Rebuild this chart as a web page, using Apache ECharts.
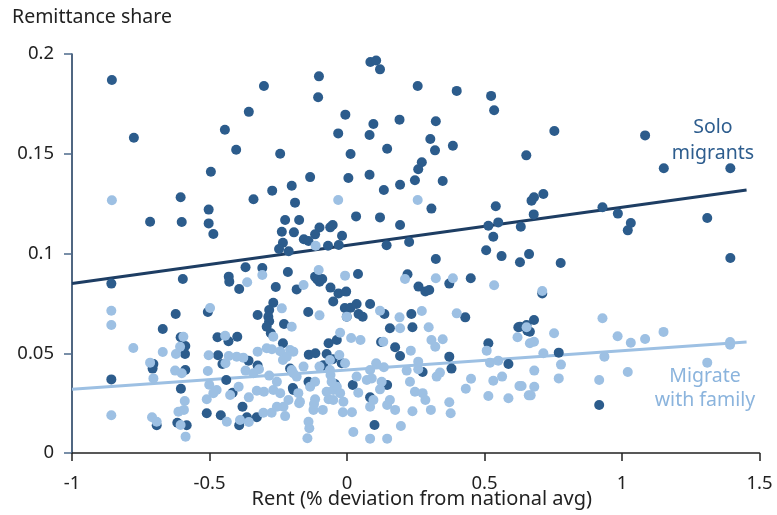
<!DOCTYPE html>
<html>
<head>
<meta charset="utf-8">
<script src="https://cdn.jsdelivr.net/npm/echarts@6/dist/echarts.min.js"></script>
<style>
html,body{margin:0;padding:0;background:#fff;}
#chart{width:777px;height:515px;}
</style>
</head>
<body>
<div id="chart"></div>
<script>
// ---- Data ----
var xTicks = [-1, -0.5, 0, 0.5, 1, 1.5];
var yTicks = [0, 0.05, 0.1, 0.15, 0.2];

var soloPoints = [
  [-0.855,0.187],[-0.775,0.158],[-0.302,0.184],[-0.357,0.171],[-0.444,0.162],[-0.403,0.152],[-0.243,0.150],[-0.495,0.141],[-0.272,0.1315],[-0.201,0.134],
  [0.085,0.196],[0.106,0.1967],[0.120,0.1923],[-0.102,0.1888],[-0.105,0.1783],[0.257,0.184],[0.399,0.1815],[0.524,0.179],[0.535,0.1718],[-0.006,0.1696],
  [0.096,0.1649],[0.191,0.1671],[0.323,0.1663],[-0.032,0.1602],[0.082,0.1594],[0.303,0.1574],[0.320,0.1517],[0.385,0.154],[0.146,0.1525],[0.013,0.1499],
  [0.652,0.1492],[0.272,0.1457],[0.259,0.1422],[-0.134,0.1383],[0.005,0.1378],[0.082,0.1395],[0.247,0.1367],[0.348,0.1363],[0.193,0.1345],[0.134,0.1318],
  [0.754,0.1614],[1.084,0.1592],[1.152,0.1427],[1.394,0.1427],
  [0.714,0.1298],[0.680,0.1282],[0.671,0.1265],[0.679,0.1196],[0.632,0.1134],[0.929,0.1232],[0.985,0.120],[1.032,0.1153],[1.021,0.1116],[1.310,0.1178],
  [0.662,0.0997],[0.629,0.0956],[0.777,0.0952],[1.394,0.0977],[0.710,0.080],[0.680,0.0667],
  [-0.605,0.1282],[-0.503,0.122],[-0.716,0.1159],[-0.601,0.1158],[-0.503,0.1151],[-0.486,0.1098],[-0.340,0.1272],[-0.189,0.1255],[-0.225,0.1168],[-0.237,0.1109],
  [-0.193,0.1106],[-0.233,0.1054],[-0.247,0.1023],[-0.212,0.1011],[-0.174,0.1168],[-0.857,0.0849],[-0.597,0.0872],[-0.369,0.0931],[-0.308,0.0927],[-0.430,0.0884],
  [-0.428,0.0859],[-0.392,0.0822],[-0.215,0.0907],[-0.259,0.0832],[-0.183,0.082],[-0.268,0.0753],[-0.283,0.0717],[-0.325,0.0692],[-0.286,0.0683],[-0.506,0.0707],
  [-0.623,0.0697],
  [0.307,0.1225],[0.033,0.1186],[0.120,0.1181],[-0.100,0.113],[-0.061,0.1131],[-0.052,0.1143],[-0.018,0.1089],[-0.116,0.1096],[-0.157,0.1071],[-0.140,0.1063],
  [-0.069,0.1039],[-0.030,0.1043],[0.193,0.1143],[0.144,0.1041],[0.226,0.1058],[0.541,0.1237],[0.514,0.1139],[0.550,0.1156],[0.532,0.1084],[0.506,0.1016],
  [0.562,0.0987],[0.323,0.0972],[-0.116,0.0884],[-0.100,0.0859],[-0.108,0.0870],[-0.090,0.0872],[0.040,0.0897],[-0.060,0.0829],[-0.031,0.080],[-0.003,0.0809],
  [-0.050,0.0759],[0.220,0.0896],[0.372,0.0849],[0.450,0.0876],[0.260,0.0834],[0.285,0.081],[0.299,0.0817],[-0.141,0.0707],[-0.008,0.0727],[0.013,0.0728],
  [0.035,0.0747],[0.084,0.0747],[0.136,0.0697],[0.042,0.0697],[-0.001,0.0683],[0.234,0.0697],[0.430,0.068],[0.057,0.0683],
  [-0.283,0.066],[-0.277,0.060],[-0.292,0.0633],[-0.229,0.0647],[-0.233,0.055],[-0.670,0.0622],[-0.605,0.058],[-0.588,0.0536],[-0.589,0.0496],[-0.704,0.0446],
  [-0.707,0.0423],[-0.588,0.0416],[-0.857,0.0369],[-0.604,0.0322],[-0.471,0.058],[-0.431,0.056],[-0.399,0.0583],[-0.469,0.049],[-0.453,0.0446],[-0.358,0.0463],
  [-0.325,0.0438],[-0.439,0.0366],[-0.416,0.0302],[-0.380,0.0232],[-0.510,0.0199],[-0.459,0.0189],[-0.692,0.0139],[-0.617,0.0152],[-0.583,0.0139],[-0.392,0.0139],
  [-0.364,0.0179],[-0.328,0.0179],[-0.207,0.0424],[-0.195,0.0316],
  [0.156,0.0625],[0.238,0.063],[0.623,0.063],[0.656,0.0613],[-0.067,0.055],[-0.037,0.0566],[0.124,0.0556],[0.175,0.053],[0.514,0.055],[-0.139,0.0493],
  [-0.115,0.050],[-0.074,0.0496],[-0.052,0.047],[-0.019,0.045],[-0.086,0.044],[0.193,0.0486],[0.372,0.0483],[0.587,0.0446],[0.275,0.0406],[0.380,0.0423],
  [-0.140,0.0357],[-0.197,0.0326],[-0.044,0.0346],[0.021,0.0341],[0.146,0.0341],[0.084,0.0279],[0.100,0.014],
  [0.629,0.0633],[0.653,0.0642],[0.665,0.0608],[0.770,0.0503],[0.917,0.0241]
];

var familyPoints = [
  [-0.855,0.1267],[-0.032,0.1268],[0.257,0.1268],[-0.308,0.0892],[-0.363,0.0856],[-0.857,0.0713],[-0.498,0.0727],[-0.237,0.0725],[-0.114,0.1039],[-0.103,0.0917],
  [-0.007,0.0889],[-0.158,0.0842],[0.211,0.0872],[0.323,0.0876],[0.385,0.0876],[0.535,0.0841],[-0.100,0.069],[0.120,0.0713],[-0.001,0.0683],[0.191,0.068],
  [0.272,0.0712],[0.399,0.070],[0.710,0.0812],[0.929,0.0675],
  [-0.857,0.0642],[-0.777,0.0526],[-0.670,0.0506],[-0.716,0.0453],[-0.704,0.0374],[-0.857,0.0189],[-0.709,0.0179],[-0.692,0.0157],[-0.622,0.0496],[-0.607,0.0533],
  [-0.595,0.0583],[-0.625,0.0413],[-0.601,0.040],[-0.590,0.0261],[-0.593,0.0216],[-0.613,0.0207],[-0.605,0.014],[-0.587,0.0082],[-0.503,0.049],[-0.506,0.0411],
  [-0.501,0.0342],[-0.510,0.0269],[-0.443,0.0588],[-0.442,0.045],[-0.474,0.0316],[-0.486,0.030],[-0.437,0.0157],[-0.430,0.0486],[-0.401,0.0483],[-0.377,0.0478],
  [-0.369,0.0413],[-0.394,0.0332],[-0.425,0.0291],[-0.357,0.0279],[-0.389,0.0165],[-0.357,0.0155],[-0.325,0.0508],[-0.320,0.042],[-0.340,0.040],[-0.328,0.0312],
  [-0.302,0.0307],[-0.283,0.0388],[-0.304,0.0202],[-0.274,0.0202],[-0.292,0.0525],[-0.268,0.0583],[-0.273,0.052],[-0.243,0.051],[-0.233,0.0466],[-0.207,0.0516],
  [-0.195,0.0508],[-0.219,0.0483],[-0.201,0.0633],[-0.255,0.0357],[-0.268,0.0316],[-0.243,0.030],[-0.213,0.0266],[-0.231,0.0232],[-0.225,0.0185],[-0.255,0.0232],
  [-0.174,0.0249],[-0.177,0.030],[-0.195,0.040],
  [0.193,0.0625],[0.297,0.063],[-0.025,0.0603],[0.015,0.0576],[0.049,0.0566],[0.132,0.0558],[0.307,0.0566],[0.321,0.0533],[0.348,0.057],[0.508,0.0513],
  [0.620,0.058],[0.653,0.063],[0.232,0.0513],[-0.028,0.0491],[-0.201,0.0416],[-0.158,0.0433],[-0.183,0.0383],[-0.100,0.0433],[-0.062,0.0416],[-0.060,0.0391],
  [-0.007,0.045],[0.035,0.0383],[0.084,0.0416],[0.106,0.045],[0.134,0.043],[0.072,0.0366],[0.090,0.0374],[0.217,0.0413],[0.259,0.0458],[0.259,0.042],
  [0.229,0.0357],[0.326,0.0383],[0.338,0.0403],[0.451,0.0372],[0.432,0.0322],[0.520,0.0453],[0.550,0.0463],[0.532,0.0362],[0.564,0.0383],[0.627,0.0336],
  [0.661,0.0289],[0.514,0.0286],[0.587,0.0274],[0.372,0.0254],[0.377,0.0199],[0.305,0.0216],[0.285,0.0266],[0.247,0.0307],[0.275,0.030],[0.238,0.0209],
  [0.156,0.0266],[0.146,0.0241],[0.175,0.0216],[0.120,0.0319],[0.126,0.0357],[0.096,0.0266],[0.084,0.0232],[0.196,0.0135],[0.084,0.0072],[0.146,0.0072],
  [0.023,0.0105],[0.018,0.0204],[-0.015,0.0204],[-0.088,0.0216],[-0.122,0.0216],[-0.120,0.0246],[-0.116,0.0269],[-0.140,0.0157],[-0.137,0.0124],[-0.144,0.0074],
  [-0.171,0.0257],[-0.067,0.0269],[-0.074,0.0307],[-0.050,0.0316],[-0.037,0.0332],[-0.025,0.030],[-0.013,0.0257],[-0.050,0.0266],[0.041,0.0302],[-0.056,0.0357],
  [-0.116,0.0357],[-0.134,0.0332],[-0.062,0.0466],
  [0.753,0.060],[0.984,0.0585],[1.032,0.0553],[1.084,0.0571],[1.151,0.0607],[1.393,0.0556],[1.393,0.0543],[0.665,0.055],[0.680,0.0558],[0.714,0.050],
  [0.778,0.0443],[0.681,0.0413],[0.770,0.0374],[0.635,0.0336],[0.681,0.0332],[0.668,0.0289],[0.936,0.0483],[0.917,0.0366],[1.021,0.0406],[1.310,0.0453]
];

// Fitted trend lines (endpoints)
var soloTrend = [[-1, 0.085], [1.453, 0.1318]];
var familyTrend = [[-1, 0.0319], [1.453, 0.0556]];

var yTitle = 'Remittance share';
var xTitle = 'Rent (% deviation from national avg)';
var soloLabel = ['Solo', 'migrants'];
var familyLabel = ['Migrate', 'with family'];

// ---- Styles ----
var FONT = 'Noto Sans';
var DARK = '#2c5c8c';
var LIGHT = '#9dc0e3';
var DARKLINE = '#1d3d63';
var TXT = '#222222';

var chart = echarts.init(document.getElementById('chart'), null, {renderer: 'canvas'});
chart.setOption({
  animation: false,
  backgroundColor: '#ffffff',
  textStyle: {fontFamily: FONT},
  grid: {left: 72, right: 17.5, top: 54, bottom: 62, containLabel: false, outerBoundsMode: 'none'},
  xAxis: {
    type: 'value', min: xTicks[0], max: xTicks[xTicks.length - 1], interval: 0.5,
    name: xTitle, nameLocation: 'middle', nameGap: 36, nameMoveOverlap: false,
    nameTextStyle: {fontSize: 20, color: TXT, fontFamily: FONT, padding: [0, 0, 0, 12]},
    axisLine: {show: true, onZero: false, lineStyle: {color: '#222', width: 1.5}},
    axisTick: {show: true, length: 8, lineStyle: {color: '#222', width: 1.5}},
    axisLabel: {fontSize: 18.5, color: TXT, margin: 21, fontFamily: FONT,
      formatter: function (v) { return String(Math.round(v * 10) / 10); }},
    splitLine: {show: false}
  },
  yAxis: {
    type: 'value', min: yTicks[0], max: yTicks[yTicks.length - 1], interval: 0.05,
    axisLine: {show: true, onZero: false, lineStyle: {color: '#163559', width: 1.5}},
    axisTick: {show: true, length: 8, lineStyle: {color: '#4d6b8c', width: 1.5}},
    axisLabel: {fontSize: 18.5, color: TXT, margin: 18, fontFamily: FONT,
      formatter: function (v) { return String(Math.round(v * 100) / 100); }},
    splitLine: {show: false}
  },
  graphic: [
    {type: 'text', left: 12, top: 7, style: {text: yTitle, fontSize: 19.5, fill: TXT, fontFamily: FONT}},
    {type: 'text', x: 713, y: 140, style: {text: soloLabel.join('\n'), fontSize: 19.5, lineHeight: 26, fill: '#2d5d8e', fontFamily: FONT, align: 'center', verticalAlign: 'middle'}},
    {type: 'text', x: 705, y: 388, style: {text: familyLabel.join('\n'), fontSize: 19.5, lineHeight: 24, fill: '#8bb4dd', fontFamily: FONT, align: 'center', verticalAlign: 'middle'}}
  ],
  series: [
    {type: 'scatter', name: 'Solo migrants', data: soloPoints, symbolSize: 10, z: 3,
      itemStyle: {color: DARK, opacity: 1}},
    {type: 'scatter', name: 'Migrate with family', data: familyPoints, symbolSize: 10, z: 4,
      itemStyle: {color: LIGHT, opacity: 1}},
    {type: 'line', data: soloTrend, symbol: 'none', z: 2, lineStyle: {color: DARKLINE, width: 3}},
    {type: 'line', data: familyTrend, symbol: 'none', z: 2, lineStyle: {color: LIGHT, width: 3}}
  ]
});
</script>
</body>
</html>
